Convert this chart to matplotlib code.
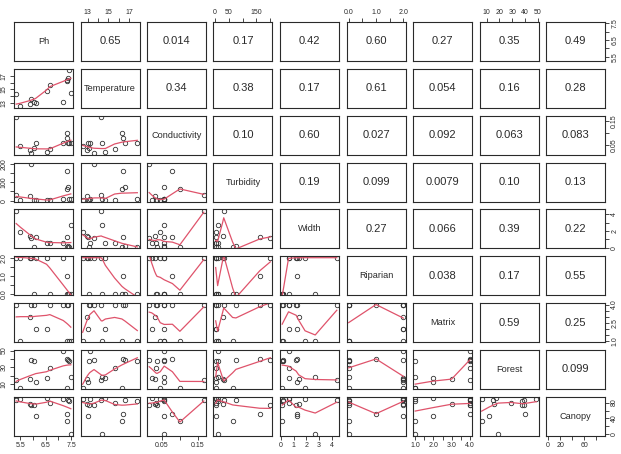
import numpy as np
import matplotlib
matplotlib.use('Agg')
import matplotlib.pyplot as plt

# Stream survey variables (one value per site)
names 		= ['Ph','Temperature','Conductivity','Turbidity','Width','Riparian','Matrix','Forest','Canopy']
ph 			= [5.33, 5.50, 5.86, 5.93, 6.03, 6.10, 6.53, 6.66, 7.19, 7.33, 7.35, 7.37, 7.40, 7.49]
temperature = [14.3, 12.5, 12.9, 13.6, 13.1, 13.0, 14.7, 15.6, 13.2, 16.4, 16.3, 16.6, 17.8, 14.4]
conductivity= [0.167,0.045,0.029,0.014,0.036,0.056,0.021,0.033,0.056,0.079,0.100,0.056,0.056,0.056]
turbidity 	= [32, 5, 28, 200, 5, 3, 3, 3, 10, 162, 64, 76, 10, 10]
width 		= [4.4, 1.9, 1.4, 1.2, 0.1, 1.25, 0.6, 0.6, 0.6, 1.25, 0.1, 0.2, 0.15, 2.7]
riparian 	= [2.0, 2.0, 2.0, 2.0, 0.0, 2.0, 2.0, 0.0, 2.0, 1.0, 0.0, 0.0, 0.0, 0.0]
matrix 		= [4, 1, 3, 4, 4, 2, 2, 4, 4, 4, 1, 4, 1, 1]
forest 		= [15, 6, 16, 39, 38, 12, 17, 29, 49, 40, 6, 39, 38, 19]
canopy 		= [87, 89, 76, 74, 75, 45, 91, 80, 88, 52, 33, 86, 85, 0]

# numbers printed in the upper panels, row by row
corr_text 	= ['0.65','0.014','0.17','0.42','0.60','0.27','0.35','0.49',
			   '0.34','0.38','0.17','0.61','0.054','0.16','0.28',
			   '0.10','0.60','0.027','0.092','0.063','0.083',
			   '0.19','0.099','0.0079','0.10','0.13',
			   '0.27','0.066','0.39','0.22',
			   '0.038','0.17','0.55',
			   '0.59','0.25',
			   '0.099']

# tick positions, labels on the horizontal axis, labels on the vertical axis
axis_ticks = {
	'Ph'			: ([5.5,6.0,6.5,7.0,7.5], ['5.5','','6.5','','7.5'], ['5.5','','6.5','','7.5']),
	'Temperature'	: ([13,14,15,16,17], ['13','','15','','17'], ['13','','15','','17']),
	'Conductivity'	: ([0.05,0.10,0.15], ['0.05','','0.15'], ['0.05','','0.15']),
	'Turbidity'		: ([0,50,100,150,200], ['0','50','','150',''], ['0','','100','','200']),
	'Width'			: ([0,1,2,3,4], ['0','1','2','3','4'], ['0','','2','','4']),
	'Riparian'		: ([0,0.5,1,1.5,2], ['0.0','','1.0','','2.0'], ['0.0','','1.0','','2.0']),
	'Matrix'		: ([1,1.5,2,2.5,3,3.5,4], ['1.0','','2.0','','3.0','','4.0'], ['1.0','','','2.5','','','4.0']),
	'Forest'		: ([10,20,30,40,50], ['10','20','30','40','50'], ['10','','30','','50']),
	'Canopy'		: ([0,20,40,60,80], ['0','20','','60',''], ['0','','40','','80']),
}

def lowess(x, y, f=2./3., it=3):
	"""plain R-style lowess: local linear fits with tricube weights, bisquare robustness"""
	o 		= np.argsort(x, kind='stable')
	x, y 	= np.asarray(x, float)[o], np.asarray(y, float)[o]
	n 		= len(x)
	ns 		= max(2, min(n, int(f*n + 1e-7)))
	rw 		= np.ones(n)
	fit 	= np.zeros(n)
	for k in range(it+1):
		for i in range(n):
			d = np.abs(x - x[i])
			h = np.sort(d)[ns-1]
			if h > 0: 	w = np.clip(1 - (np.clip(d/h, 0, 1))**3, 0, 1)**3
			else: 		w = (d == 0).astype(float)
			w = w*rw
			sw = w.sum()
			if sw <= 0: fit[i] = y[i]; continue
			xm = (w*x).sum()/sw
			ym = (w*y).sum()/sw
			vx = (w*(x-xm)**2).sum()
			if vx > 1e-12*(np.ptp(x)**2 + 1e-30):
				b = (w*(x-xm)*(y-ym)).sum()/vx
				fit[i] = ym + b*(x[i]-xm)
			else: fit[i] = ym
		if k == it: break
		res = y - fit
		s 	= np.median(np.abs(res))
		if s == 0: break
		rw 	= np.clip(1 - (res/(6*s))**2, 0, 1)**2
	return x, fit

data 	= [ph,temperature,conductivity,turbidity,width,riparian,matrix,forest,canopy]
nv 		= len(names)

W, H 	= 621, 454
fig 	= plt.figure(figsize=(W/100., H/100.), dpi=100)
fig.patch.set_facecolor('white')

x0, y0 	= 14, 22
dx, dy 	= 66.5, 46.85
pw, ph_ = 59, 39
ink 	= '#2a2a2a'
smooth 	= '#DF536B'

def lims(v):
	v 	= np.asarray(v, float)
	pad = 0.04*(v.max() - v.min())
	return v.min()-pad, v.max()+pad

k = 0
for i in range(nv):
	for j in range(nv):
		left 	= x0 + dx*j
		top 	= y0 + dy*i
		ax 		= fig.add_axes([left/W, 1-(top+ph_)/H, pw/W, ph_/H])
		ax.set_xlim(lims(data[j])); ax.set_ylim(lims(data[i]))
		for sp in ax.spines.values(): sp.set_color(ink); sp.set_linewidth(0.8)
		ax.set_xticks([]); ax.set_yticks([])

		if i == j:
			ax.text(0.5, 0.5, names[i], transform=ax.transAxes, ha='center', va='center',
					fontsize=6.6, color=ink, family='Liberation Sans')
		elif j > i:
			ax.text(0.5, 0.5, corr_text[k], transform=ax.transAxes, ha='center', va='center',
					fontsize=8, color=ink, family='Liberation Sans')
			k += 1
		else:
			ax.plot(data[j], data[i], 'o', ms=3.2, mfc='none', mec='#333333', mew=0.6)
			sx, sy = lowess(data[j], data[i])
			ax.plot(sx, sy, '-', color=smooth, lw=0.9)

		# outer axes, alternating sides like pairs()
		tk, xl, yl = axis_ticks[names[j]][0], axis_ticks[names[j]][1], None
		if (i == 0 and j % 2 == 1) or (i == nv-1 and j % 2 == 0):
			ax.set_xticks(tk); ax.set_xticklabels(xl)
			if i == 0: ax.xaxis.tick_top()
		tk, yl = axis_ticks[names[i]][0], axis_ticks[names[i]][2]
		if (j == 0 and i % 2 == 1) or (j == nv-1 and i % 2 == 0):
			ax.set_yticks(tk); ax.set_yticklabels(yl, rotation=90, va='center')
			if j == nv-1: ax.yaxis.tick_right()
		ax.tick_params(direction='out', length=3, width=0.6, color=ink, labelsize=5,
					   labelcolor=ink, pad=1.5)
		for lab in ax.get_xticklabels()+ax.get_yticklabels(): lab.set_family('Liberation Sans')
		ax.set_xlim(lims(data[j])); ax.set_ylim(lims(data[i]))

plt.savefig('out.png', dpi=100)
